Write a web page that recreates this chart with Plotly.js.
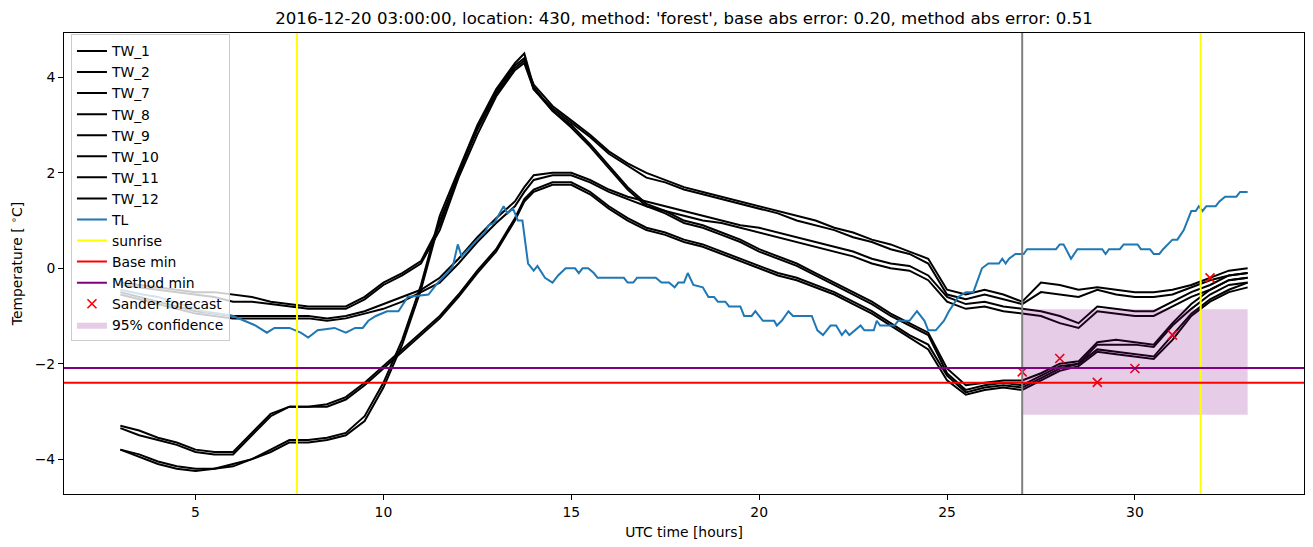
<!DOCTYPE html>
<html>
<head>
<meta charset="utf-8">
<script src="https://cdn.plot.ly/plotly-3.0.1.min.js"></script>
<style>html,body{margin:0;padding:0;background:#fff;}#chart{width:1313px;height:547px;}</style>
</head>
<body>
<div id="chart"></div>
<script>
// ---- data ----
const hours = [3.0,3.5,4.0,4.5,5.0,5.5,6.0,6.5,7.0,7.5,8.0,8.5,9.0,9.5,10.0,10.5,11.0,11.5,12.0,12.5,13.0,13.5,13.75,14.0,14.5,15.0,15.5,16.0,16.5,17.0,17.5,18.0,18.5,19.0,19.5,20.0,20.5,21.0,21.5,22.0,22.5,23.0,23.5,24.0,24.5,25.0,25.5,26.0,26.5,27.0,27.5,28.0,28.5,29.0,29.5,30.0,30.5,31.0,31.5,32.0,32.5,33.0];

const tw1  = [-0.3,-0.35,-0.4,-0.45,-0.5,-0.5,-0.55,-0.6,-0.7,-0.75,-0.8,-0.8,-0.8,-0.6,-0.3,-0.1,0.15,0.9,2.0,2.9,3.65,4.2,4.35,3.85,3.4,3.1,2.8,2.45,2.2,2.0,1.85,1.7,1.6,1.5,1.4,1.3,1.2,1.1,1.0,0.85,0.75,0.6,0.5,0.35,0.2,-0.45,-0.55,-0.45,-0.55,-0.7,-0.3,-0.35,-0.45,-0.4,-0.45,-0.5,-0.5,-0.45,-0.35,-0.2,-0.05,0.0];
const tw2  = [-0.35,-0.4,-0.45,-0.5,-0.55,-0.6,-0.7,-0.7,-0.75,-0.8,-0.85,-0.85,-0.85,-0.65,-0.35,-0.15,0.1,0.8,1.9,2.8,3.6,4.15,4.3,3.75,3.35,3.05,2.75,2.4,2.15,1.9,1.8,1.65,1.55,1.45,1.35,1.25,1.15,1.0,0.9,0.8,0.65,0.55,0.4,0.3,0.1,-0.55,-0.65,-0.55,-0.65,-0.75,-0.5,-0.55,-0.6,-0.45,-0.55,-0.6,-0.6,-0.55,-0.4,-0.25,-0.15,-0.1];
const tw7  = [-3.8,-3.9,-4.05,-4.15,-4.2,-4.2,-4.1,-4.0,-3.8,-3.6,-3.6,-3.55,-3.45,-3.1,-2.4,-1.5,-0.35,1.1,2.05,3.0,3.75,4.3,4.5,3.8,3.3,3.0,2.6,2.15,1.7,1.35,1.2,1.0,0.9,0.75,0.6,0.4,0.25,0.1,-0.1,-0.3,-0.5,-0.7,-0.95,-1.15,-1.35,-2.1,-2.45,-2.4,-2.35,-2.35,-2.2,-2.0,-1.95,-1.55,-1.5,-1.55,-1.6,-1.15,-0.75,-0.45,-0.25,-0.2];
const tw8  = [-3.8,-3.95,-4.1,-4.2,-4.25,-4.2,-4.15,-4.0,-3.85,-3.65,-3.65,-3.6,-3.5,-3.2,-2.5,-1.6,-0.45,1.0,1.95,2.95,3.7,4.25,4.4,3.75,3.3,2.95,2.55,2.1,1.65,1.3,1.15,0.95,0.85,0.7,0.55,0.35,0.2,0.05,-0.15,-0.35,-0.55,-0.75,-1.0,-1.2,-1.4,-2.2,-2.55,-2.45,-2.4,-2.45,-2.25,-2.05,-2.0,-1.6,-1.6,-1.6,-1.65,-1.2,-0.85,-0.55,-0.35,-0.3];
const tw9  = [-0.5,-0.6,-0.7,-0.8,-0.9,-0.95,-1.0,-1.0,-1.0,-1.0,-1.0,-1.05,-1.0,-0.9,-0.75,-0.6,-0.45,-0.2,0.2,0.65,1.05,1.4,1.7,1.95,2.0,2.0,1.85,1.65,1.5,1.4,1.3,1.2,1.1,1.0,0.9,0.85,0.75,0.65,0.55,0.45,0.35,0.2,0.1,0.05,-0.15,-0.6,-0.75,-0.7,-0.8,-0.85,-0.9,-1.0,-1.15,-0.8,-0.85,-0.9,-0.9,-0.7,-0.5,-0.35,-0.15,-0.1];
const tw10 = [-0.55,-0.65,-0.75,-0.85,-0.95,-1.0,-1.05,-1.05,-1.05,-1.05,-1.05,-1.1,-1.05,-0.95,-0.85,-0.7,-0.5,-0.3,0.1,0.55,0.95,1.3,1.6,1.85,1.95,1.95,1.8,1.6,1.45,1.3,1.2,1.1,1.0,0.95,0.85,0.75,0.65,0.55,0.45,0.35,0.25,0.1,0.0,-0.05,-0.25,-0.7,-0.85,-0.8,-0.9,-0.95,-1.0,-1.15,-1.25,-0.9,-0.95,-1.0,-1.0,-0.8,-0.6,-0.45,-0.25,-0.2];
const tw11 = [-3.3,-3.4,-3.55,-3.65,-3.8,-3.85,-3.85,-3.45,-3.05,-2.9,-2.9,-2.85,-2.7,-2.4,-2.05,-1.7,-1.35,-1.0,-0.55,-0.05,0.4,1.05,1.45,1.65,1.8,1.8,1.6,1.3,1.05,0.85,0.75,0.6,0.5,0.35,0.2,0.05,-0.1,-0.2,-0.35,-0.5,-0.7,-0.9,-1.15,-1.4,-1.6,-2.25,-2.6,-2.5,-2.45,-2.5,-2.3,-2.1,-2.0,-1.7,-1.75,-1.8,-1.85,-1.4,-0.95,-0.65,-0.45,-0.3];
const tw12 = [-3.35,-3.5,-3.6,-3.7,-3.85,-3.9,-3.9,-3.5,-3.1,-2.9,-2.9,-2.9,-2.75,-2.45,-2.1,-1.75,-1.4,-1.05,-0.6,-0.1,0.35,1.0,1.4,1.6,1.75,1.75,1.55,1.25,1.0,0.8,0.7,0.55,0.45,0.3,0.15,0.0,-0.15,-0.25,-0.4,-0.55,-0.75,-0.95,-1.2,-1.45,-1.7,-2.35,-2.65,-2.55,-2.5,-2.55,-2.35,-2.15,-2.05,-1.75,-1.8,-1.85,-1.9,-1.5,-1.0,-0.7,-0.5,-0.4];

const tlHours = [3.0,3.3,3.6,4.0,4.4,4.8,5.2,5.6,6.0,6.3,6.6,6.9,7.1,7.5,7.8,8.0,8.25,8.7,9.0,9.25,9.45,9.6,9.8,10.1,10.4,10.65,11.2,11.45,11.7,11.85,11.98,12.08,12.25,12.5,12.7,12.8,12.95,13.05,13.2,13.3,13.45,13.58,13.7,13.85,14.0,14.1,14.3,14.5,14.65,14.85,15.1,15.2,15.3,15.45,15.6,15.7,16.4,16.5,16.65,16.75,17.25,17.4,17.6,17.75,17.85,18.0,18.1,18.25,18.5,18.65,18.8,18.9,19.1,19.2,19.5,19.6,19.8,19.9,20.1,20.4,20.47,20.6,20.78,20.9,21.4,21.55,21.7,21.9,22.05,22.2,22.3,22.4,22.55,22.7,22.8,23.05,23.13,23.22,23.6,23.7,24.0,24.2,24.4,24.5,24.7,24.82,24.92,25.05,25.3,25.5,25.7,25.93,26.1,26.38,26.47,26.56,26.65,26.82,27.04,27.13,27.9,28.0,28.1,28.2,28.3,28.47,29.13,29.22,29.31,29.6,29.7,30.07,30.16,30.4,30.5,30.65,30.75,31.0,31.13,31.3,31.4,31.5,31.62,31.7,31.8,31.9,32.15,32.25,32.4,32.7,32.8,33.0];
const tlTemp  = [-0.45,-0.5,-0.55,-0.6,-0.7,-0.8,-0.9,-0.95,-1.0,-1.1,-1.2,-1.35,-1.25,-1.25,-1.35,-1.45,-1.3,-1.25,-1.35,-1.25,-1.25,-1.1,-1.0,-0.9,-0.9,-0.6,-0.55,-0.3,-0.1,0.05,0.5,0.25,0.4,0.6,0.75,0.9,0.95,1.1,1.3,1.15,1.25,1.0,1.0,0.1,-0.05,0.05,-0.2,-0.3,-0.15,0.0,0.0,-0.1,0.0,0.0,-0.1,-0.2,-0.2,-0.3,-0.3,-0.2,-0.2,-0.3,-0.3,-0.4,-0.3,-0.3,-0.1,-0.35,-0.4,-0.6,-0.6,-0.7,-0.7,-0.8,-0.8,-1.0,-1.0,-0.9,-1.1,-1.1,-1.2,-1.1,-0.9,-1.0,-1.0,-1.3,-1.4,-1.2,-1.2,-1.4,-1.3,-1.4,-1.3,-1.2,-1.3,-1.3,-1.1,-1.2,-1.2,-1.1,-1.1,-0.9,-1.1,-1.3,-1.3,-1.2,-1.1,-0.9,-0.6,-0.5,-0.5,0.0,0.1,0.1,0.2,0.1,0.2,0.3,0.3,0.4,0.4,0.5,0.5,0.35,0.2,0.4,0.4,0.3,0.4,0.4,0.5,0.5,0.4,0.4,0.3,0.3,0.4,0.6,0.6,0.8,1.0,1.2,1.2,1.3,1.2,1.3,1.3,1.4,1.5,1.5,1.6,1.6];

const sunriseHours = [7.7, 31.75];
const forecastHour = 27.0;
const baseMin = -2.4;
const methodMin = -2.09;
const sanderHours = [27, 28, 29, 30, 31, 32];
const sanderTemp  = [-2.17, -1.89, -2.39, -2.1, -1.4, -0.2];
const confHours = [27, 33];
const confLow = -3.07;
const confHigh = -0.86;

const twNames = ['TW_1','TW_2','TW_7','TW_8','TW_9','TW_10','TW_11','TW_12'];
const twSeries = [tw1, tw2, tw7, tw8, tw9, tw10, tw11, tw12];

// ---- traces ----
const traces = [];
twSeries.forEach((ys, i) => {
  traces.push({x: hours, y: ys, name: twNames[i], type: 'scatter', mode: 'lines',
    line: {color: '#000000', width: 2}});
});
traces.push({x: tlHours, y: tlTemp, name: 'TL', type: 'scatter', mode: 'lines',
  line: {color: '#1f77b4', width: 2}});
traces.push({x: [null], y: [null], name: 'sunrise', type: 'scatter', mode: 'lines',
  line: {color: 'yellow', width: 2}});
traces.push({x: [null], y: [null], name: 'Base min', type: 'scatter', mode: 'lines',
  line: {color: 'red', width: 2}});
traces.push({x: [null], y: [null], name: 'Method min', type: 'scatter', mode: 'lines',
  line: {color: 'purple', width: 2}});
traces.push({x: sanderHours, y: sanderTemp, name: 'Sander forecast', type: 'scatter', mode: 'markers',
  marker: {symbol: 'x-thin', size: 9, color: 'red', line: {color: 'red', width: 1.6}}});
traces.push({x: [confHours[0], confHours[1], confHours[1], confHours[0]],
  y: [confLow, confLow, confHigh, confHigh], name: '95% confidence', type: 'scatter', mode: 'lines',
  fill: 'toself', fillcolor: 'rgba(128,0,128,0.2)', line: {width: 0, color: 'rgba(128,0,128,0)'}});

const shapes = [];
sunriseHours.forEach(h => shapes.push({type: 'line', xref: 'x', yref: 'paper', x0: h, x1: h, y0: 0, y1: 1,
  line: {color: 'yellow', width: 2}}));
shapes.push({type: 'line', xref: 'x', yref: 'paper', x0: forecastHour, x1: forecastHour, y0: 0, y1: 1,
  line: {color: 'grey', width: 2}});
shapes.push({type: 'line', xref: 'paper', yref: 'y', x0: 0, x1: 1, y0: baseMin, y1: baseMin,
  line: {color: 'red', width: 2}});
shapes.push({type: 'line', xref: 'paper', yref: 'y', x0: 0, x1: 1, y0: methodMin, y1: methodMin,
  line: {color: 'purple', width: 2}});

const font = {family: 'DejaVu Sans, sans-serif', size: 13.9, color: '#000'};
const layout = {
  width: 1313, height: 547,
  margin: {l: 64, r: 9, t: 33, b: 53},
  paper_bgcolor: '#fff', plot_bgcolor: '#fff',
  font: font,
  showlegend: true,
  title: {text: "2016-12-20 03:00:00, location: 430, method: 'forest', base abs error: 0.20, method abs error: 0.51",
    font: {family: 'DejaVu Sans, sans-serif', size: 16.6, color: '#000'}, x: 0.5, xref: 'paper', xanchor: 'center', y: 0.967, yanchor: 'middle'},
  xaxis: {range: [1.5, 34.5], tickvals: [5,10,15,20,25,30], ticks: 'outside', ticklen: 5, tickwidth: 1,
    tickcolor: '#000', showline: true, mirror: true, linecolor: '#000', linewidth: 1,
    showgrid: false, zeroline: false, tickfont: font,
    title: {text: 'UTC time [hours]', font: font, standoff: 8}},
  yaxis: {range: [-4.73, 4.93], tickvals: [-4,-2,0,2,4], ticks: 'outside', ticklen: 5, tickwidth: 1,
    tickcolor: '#000', showline: true, mirror: true, linecolor: '#000', linewidth: 1,
    showgrid: false, zeroline: false, tickfont: font,
    title: {text: 'Temperature [ <sup>∘</sup>C]', font: font, standoff: 8}},
  legend: {x: 0.0056, y: 0.997, xanchor: 'left', yanchor: 'top', bgcolor: 'rgba(255,255,255,0.8)',
    bordercolor: '#cccccc', borderwidth: 1, font: font},
  shapes: shapes
};
Plotly.newPlot('chart', traces, layout, {displayModeBar: false, staticPlot: true});
</script>
</body>
</html>
